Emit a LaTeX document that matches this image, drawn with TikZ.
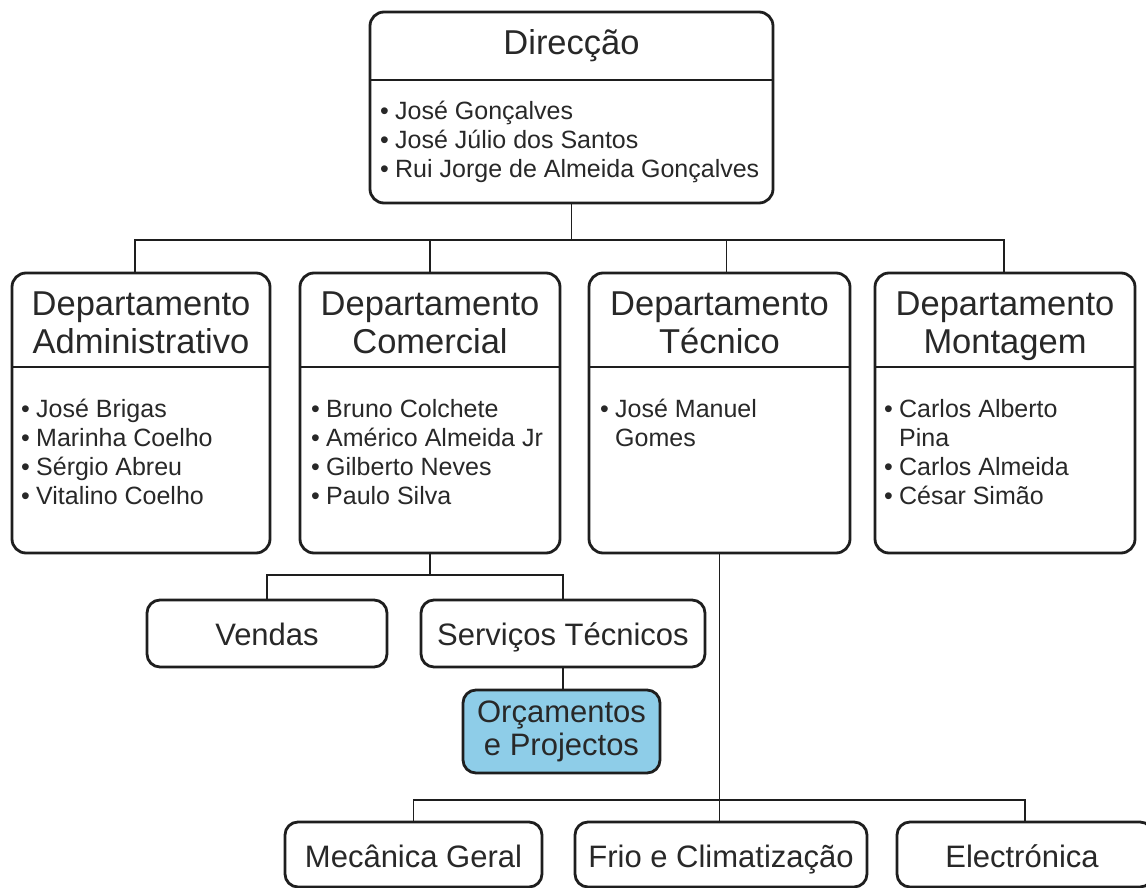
\documentclass[tikz,border=0pt]{standalone}
\usepackage{fontspec}
\setmainfont{Liberation Sans}
\definecolor{linec}{RGB}{30,30,30}
\definecolor{txtc}{RGB}{40,40,40}
\definecolor{orcfill}{RGB}{142,205,232}
\tikzset{
  box/.style={draw=linec, line width=2.8pt, rounded corners=14pt, fill=white, inner sep=0pt, outer sep=0pt},
  sbox/.style={box, rounded corners=13pt},
  conn/.style={draw=linec, line width=1.9pt},
  sepl/.style={draw=linec, line width=2.8pt},
  ttl/.style={font=\fontsize{34.5}{38}\selectfont, text=txtc, inner sep=0pt, anchor=base},
  itm/.style={font=\fontsize{25}{29}\selectfont, text=txtc, inner sep=0pt, anchor=base west},
  sub/.style={font=\fontsize{31}{33}\selectfont, text=txtc, inner sep=0pt, anchor=base},
}
\newcommand{\bul}{\makebox[15pt][l]{•}}
\newcommand{\nob}{\hspace*{15pt}}
\begin{document}
\begin{tikzpicture}[x=1pt,y=-1pt]
\useasboundingbox[fill=white] (0,0) rectangle (1146,888);

% Direccao
\node[box, minimum width=403pt, minimum height=191pt] (dir) at (571.5,107.5) {};
\draw[sepl] ([yshift=27.5pt]dir.west) -- ([yshift=27.5pt]dir.east);
\node[ttl] (dirT) at (571.5,55) {Direcção};
\node[itm] (dir1) at (380,120) {\bul José Gonçalves};
\node[itm] (dir2) at (380,149) {\bul José Júlio dos Santos};
\node[itm] (dir3) at (380,178) {\bul Rui Jorge de Almeida Gonçalves};

% Departments
\node[box, minimum width=258pt, minimum height=280pt] (adm) at (141,413) {};
\node[box, minimum width=260pt, minimum height=280pt] (com) at (430,413) {};
\node[box, minimum width=261pt, minimum height=280pt] (tec) at (719.5,413) {};
\node[box, minimum width=260pt, minimum height=280pt] (mon) at (1005,413) {};
\foreach \n in {adm,com,tec,mon}
  \draw[sepl] ([yshift=46pt]\n.west) -- ([yshift=46pt]\n.east);

\node[ttl] (admT1) at (141,315) {Departamento};
\node[ttl] (admT2) at (141,353) {Administrativo};
\node[ttl] (comT1) at (430,315) {Departamento};
\node[ttl] (comT2) at (430,353) {Comercial};
\node[ttl] (tecT1) at (719.5,315) {Departamento};
\node[ttl] (tecT2) at (719.5,353) {Técnico};
\node[ttl] (monT1) at (1005,315) {Departamento};
\node[ttl] (monT2) at (1005,353) {Montagem};

\node[itm] (adm1) at (21,417) {\bul José Brigas};
\node[itm] (adm2) at (21,446) {\bul Marinha Coelho};
\node[itm] (adm3) at (21,475) {\bul Sérgio Abreu};
\node[itm] (adm4) at (21,504) {\bul Vitalino Coelho};

\node[itm] (com1) at (311,417) {\bul Bruno Colchete};
\node[itm] (com2) at (311,446) {\bul Américo Almeida Jr};
\node[itm] (com3) at (311,475) {\bul Gilberto Neves};
\node[itm] (com4) at (311,504) {\bul Paulo Silva};

\node[itm] (tec1) at (600,417) {\bul José Manuel};
\node[itm] (tec2) at (600,446) {\nob Gomes};

\node[itm] (mon1) at (884,417) {\bul Carlos Alberto};
\node[itm] (mon2) at (884,446) {\nob Pina};
\node[itm] (mon3) at (884,475) {\bul Carlos Almeida};
\node[itm] (mon4) at (884,504) {\bul César Simão};

% Sub units of Comercial
\node[sbox, minimum width=240pt, minimum height=67pt] (ven) at (267,633.5) {};
\node[sub] (venT) at (267,645) {Vendas};
\node[sbox, minimum width=284pt, minimum height=67pt] (ser) at (563,633.5) {};
\node[sub] (serT) at (563,645) {Serviços Técnicos};
\node[sbox, fill=orcfill, minimum width=197pt, minimum height=83pt] (orc) at (561.5,731.5) {};
\node[sub] (orcT1) at (561.5,722) {Orçamentos};
\node[sub] (orcT2) at (561.5,755) {e Projectos};

% Sub units of Tecnico
\node[sbox, minimum width=257pt, minimum height=65pt] (mec) at (413.5,854.5) {};
\node[sub] (mecT) at (413.5,867) {Mecânica Geral};
\node[sbox, minimum width=292pt, minimum height=65pt] (fri) at (721,854.5) {};
\node[sub] (friT) at (721,867) {Frio e Climatização};
\node[sbox, minimum width=256pt, minimum height=65pt] (ele) at (1025,854.5) {};
\node[sub] (eleT) at (1022,867) {Electrónica};

% Connectors
\draw[conn] (dir.south) -- (dir.south |- 0,240);
\draw[conn] ([xshift=-6pt]adm.north) |- ([xshift=-1pt]mon.north |- 0,240) -- ([xshift=-1pt]mon.north);
\draw[conn] (com.north) -- (com.north |- 0,240);
\draw[conn] ([xshift=7pt]tec.north) -- ([xshift=7pt]tec.north |- 0,240);

\draw[conn] (com.south) -- (com.south |- 0,575);
\draw[conn] (ven.north) |- (ser.north |- 0,575) -- (ser.north);
\draw[conn] (ser.south) -- (ser.south |- orc.north);

\draw[conn] (tec.south) -- (tec.south |- fri.north);
\draw[conn] (mec.north) |- (ele.north |- 0,800) -- (ele.north);
\end{tikzpicture}
\end{document}
